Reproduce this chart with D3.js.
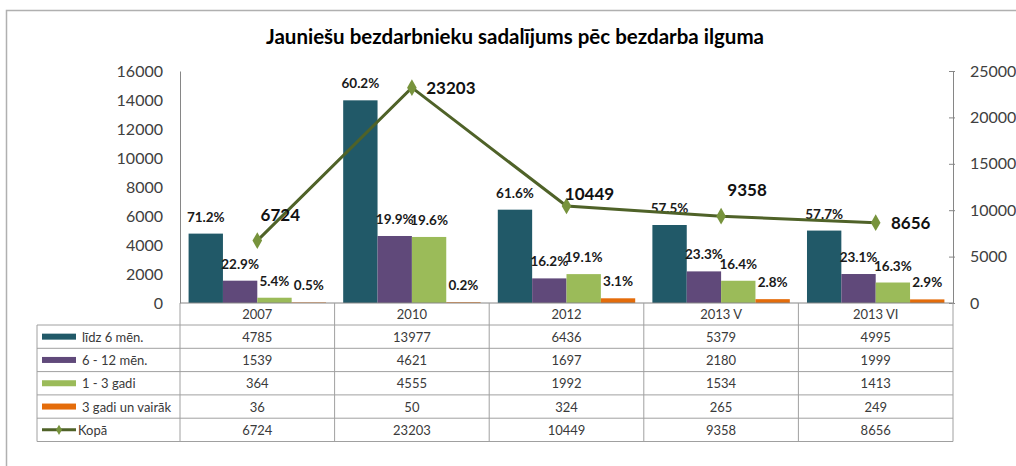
<!DOCTYPE html>
<html>
<head>
    <meta charset="utf-8">
    <style>
        body { margin: 0; background: #fff; }
        svg { display: block; font-family: Lato, 'Open Sans', sans-serif; }
    </style>
</head>
<body>
    <svg width="1016" height="466"></svg>

<script src="https://d3js.org/d3.v7.min.js"></script>
<script>
    // chart data
    const categories = ["2007", "2010", "2012", "2013 V", "2013 VI"];
    const seriesNames = ["līdz 6 mēn.", "6 - 12 mēn.", "1 - 3 gadi", "3 gadi un vairāk"];
    const lidz6 = [4785, 13977, 6436, 5379, 4995];
    const men6to12 = [1539, 4621, 1697, 2180, 1999];
    const gadi1to3 = [364, 4555, 1992, 1534, 1413];
    const gadi3plus = [36, 50, 324, 265, 249];
    const kopa = [6724, 23203, 10449, 9358, 8656];
    const leftTicks = [0, 2000, 4000, 6000, 8000, 10000, 12000, 14000, 16000];
    const rightTicks = [0, 5000, 10000, 15000, 20000, 25000];

    // where the total labels were dragged to in the original (dx, dy from the marker)
    const totalLabelShift = [[23, -26], [39, 0], [23, -13], [26, -27], [35, 0]];

    const colors = ["#215968", "#60497A", "#9BBB59", "#E46C0A"];
    const lineColor = "#4F6228";
    const markerColor = "#77933C";

    const series = [lidz6, men6to12, gadi1to3, gadi3plus];

    let svg = d3.select("svg");

    // outer chart frame
    svg.append("rect")
        .attr("x", 6.5).attr("y", 10.5)
        .attr("width", 1020).attr("height", 470)
        .style("fill", "#fff")
        .style("stroke", "#b0b0b0")
        .style("stroke-width", 1.5)

    svg.append("text")
        .attr("x", 515).attr("y", 44)
        .attr("text-anchor", "middle")
        .style("font-weight", "bold")
        .style("font-size", "20.5px")
        .text("Jauniešu bezdarbnieku sadalījums pēc bezdarba ilguma")

    let plotLeft = 180, plotRight = 953, plotTop = 71, base = 303;

    let x = d3.scaleBand()
        .domain(categories)
        .range([plotLeft, plotRight])
        .padding(0)

    let x1 = d3.scaleBand()
        .domain(d3.range(series.length))
        .range([0, x.bandwidth()])
        .paddingInner(0)
        .paddingOuter(0.25)

    let yL = d3.scaleLinear().domain([0, 16000]).range([base, plotTop]);
    let yR = d3.scaleLinear().domain([0, 25000]).range([base, plotTop]);

    // axes
    let axL = svg.append("g")
        .attr("transform", `translate(${plotLeft},0)`)
        .call(d3.axisLeft(yL).tickValues(leftTicks).tickSize(0).tickPadding(17).tickFormat(d3.format("d")))
    axL.select(".domain").style("stroke", "#868686")
    axL.selectAll("text").style("font-size", "16px").style("fill", "#404040").style("font-family", "Lato")

    let axR = svg.append("g")
        .attr("transform", `translate(${plotRight},0)`)
        .call(d3.axisRight(yR).tickValues(rightTicks).tickSizeInner(-4).tickSizeOuter(0).tickPadding(17).tickFormat(d3.format("d")))
    axR.select(".domain").style("stroke", "#868686")
    axR.selectAll("line").style("stroke", "#868686").attr("x1", 2)
    axR.selectAll("text").style("font-size", "16px").style("fill", "#404040").style("font-family", "Lato")

    // bars
    let groups = svg.append("g")
        .selectAll("g")
        .data(categories)
        .join("g")
        .attr("transform", d => `translate(${x(d)},0)`)

    groups.selectAll("rect")
        .data((c, ci) => series.map((s, si) => ({ si: si, v: s[ci], total: kopa[ci] })))
        .join("rect")
        .attr("x", d => x1(d.si))
        .attr("width", x1.bandwidth())
        .attr("y", d => yL(d.v))
        .attr("height", d => base - yL(d.v))
        .style("fill", d => colors[d.si])

    groups.selectAll(".pct")
        .data((c, ci) => series.map((s, si) => ({ si: si, v: s[ci], total: kopa[ci] })))
        .join("text")
        .attr("class", "pct")
        .attr("x", d => x1(d.si) + x1.bandwidth() / 2)
        .attr("y", d => yL(d.v) - 17)
        .attr("text-anchor", "middle")
        .attr("dominant-baseline", "central")
        .style("font-weight", "bold")
        .style("font-size", "13.5px")
        .style("fill", "#1a1a1a")
        .text(d => (d.v / d.total * 100).toFixed(1) + "%")

    // total line on the right axis
    let cx = (d, i) => x(categories[i]) + x.bandwidth() / 2;

    svg.append("path")
        .datum(kopa)
        .attr("d", d3.line().x(cx).y(d => yR(d)))
        .style("fill", "none")
        .style("stroke", lineColor)
        .style("stroke-width", 3)

    svg.append("g")
        .selectAll("path")
        .data(kopa)
        .join("path")
        .attr("d", d3.symbol(d3.symbolDiamond, 80))
        .attr("transform", (d, i) => `translate(${cx(d, i)},${yR(d)})`)
        .style("fill", markerColor)

    svg.append("g")
        .selectAll("text")
        .data(kopa)
        .join("text")
        .attr("x", (d, i) => cx(d, i) + totalLabelShift[i][0])
        .attr("y", (d, i) => yR(d) + totalLabelShift[i][1])
        .attr("text-anchor", "middle")
        .attr("dominant-baseline", "central")
        .style("font-weight", "bold")
        .style("font-size", "17px")
        .style("fill", "#111")
        .text(d => d)

    // data table under the plot
    let tableLeft = 37, headH = 22, rowH = 23.3;
    let rowsTop = base + headH;
    let tableBottom = rowsTop + rowH * 5;
    let grid = svg.append("g").style("stroke", "#a0a0a0").style("stroke-width", 1);

    grid.append("line")
        .attr("x1", plotLeft).attr("x2", plotRight).attr("y1", base).attr("y2", base)
        .style("stroke", "#868686")

    grid.selectAll(".hl")
        .data(d3.range(6))
        .join("line")
        .attr("x1", tableLeft).attr("x2", plotRight)
        .attr("y1", i => rowsTop + i * rowH).attr("y2", i => rowsTop + i * rowH)

    grid.selectAll(".vl")
        .data(categories.concat(["end"]))
        .join("line")
        .attr("x1", (d, i) => i < categories.length ? x(d) : plotRight)
        .attr("x2", (d, i) => i < categories.length ? x(d) : plotRight)
        .attr("y1", base).attr("y2", tableBottom)

    grid.append("line")
        .attr("x1", tableLeft).attr("x2", tableLeft)
        .attr("y1", rowsTop).attr("y2", tableBottom)

    let cellText = svg.append("g")
        .style("font-size", "13px")
        .style("fill", "#3a3a3a")
        .attr("text-anchor", "middle")
        .attr("dominant-baseline", "central")

    cellText.selectAll(".hd")
        .data(categories)
        .join("text")
        .attr("x", d => x(d) + x.bandwidth() / 2)
        .attr("y", base + headH / 2)
        .text(d => d)

    let tableRows = series.concat([kopa]);
    tableRows.forEach((row, ri) => {
        cellText.selectAll(".r" + ri)
            .data(row)
            .join("text")
            .attr("class", "r" + ri)
            .attr("x", (d, i) => x(categories[i]) + x.bandwidth() / 2)
            .attr("y", rowsTop + ri * rowH + rowH / 2)
            .text(d => d)
    })

    // legend keys in the first column
    let keys = svg.append("g");
    seriesNames.forEach((name, i) => {
        let cy = rowsTop + i * rowH + rowH / 2;
        keys.append("rect")
            .attr("x", 42).attr("y", cy - 3)
            .attr("width", 34).attr("height", 6)
            .style("fill", colors[i])
        keys.append("text")
            .attr("x", 82).attr("y", cy)
            .attr("dominant-baseline", "central")
            .style("font-size", "13px")
            .style("fill", "#3a3a3a")
            .text(name)
    })
    let ky = rowsTop + 4 * rowH + rowH / 2;
    keys.append("line")
        .attr("x1", 42).attr("x2", 76).attr("y1", ky).attr("y2", ky)
        .style("stroke", lineColor).style("stroke-width", 3)
    keys.append("path")
        .attr("d", d3.symbol(d3.symbolDiamond, 30))
        .attr("transform", `translate(59,${ky})`)
        .style("fill", markerColor)
    keys.append("text")
        .attr("x", 78).attr("y", ky)
        .attr("dominant-baseline", "central")
        .style("font-size", "13px")
        .style("fill", "#3a3a3a")
        .text("Kopā")
</script>
</body>
</html>
